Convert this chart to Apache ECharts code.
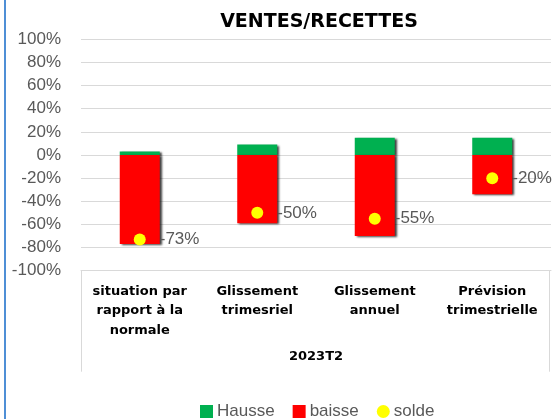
<!DOCTYPE html>
<html>
<head>
<meta charset="utf-8">
<script src="https://cdn.jsdelivr.net/npm/echarts@6/dist/echarts.min.js"></script>
<style>
html,body{margin:0;padding:0;background:#fff;}
#chart{width:554px;height:419px;}
</style>
</head>
<body>
<div id="chart"></div>
<script>
const titleText = 'VENTES/RECETTES';
const categories = ['situation par\nrapport à la\nnormale', 'Glissement\ntrimesriel', 'Glissement\nannuel', 'Prévision\ntrimestrielle'];
const groupLabel = '2023T2';
const hausse = [3, 9, 15, 15];
const baisse = [-77, -59, -70, -34];
const solde = [-73, -50, -55, -20];
const yTicks = [-100, 100, 20];

const chart = echarts.init(document.getElementById('chart'), null, {renderer: 'canvas'});
const gray = '#595959';
const barShadow = {shadowColor: 'rgba(0,0,0,0.75)', shadowOffsetX: 2, shadowOffsetY: 1, shadowBlur: 2};

const option = {
  animation: false,
  backgroundColor: '#fff',
  title: {
    text: titleText,
    left: 314, top: 8, textAlign: 'center',
    textStyle: {fontFamily: 'DejaVu Sans', fontWeight: 900, fontSize: 19, color: '#000'}
  },
  grid: {left: 81, right: 3, top: 39.3, bottom: 148.3, containLabel: false},
  legend: {
    left: 195, top: 398,
    itemWidth: 13, itemHeight: 13, itemGap: 18,
    textStyle: {fontFamily: 'Liberation Sans', fontSize: 17, color: gray, padding: [0, 0, 0, -1]},
    data: [
      {name: 'Hausse', icon: 'rect'},
      {name: 'baisse', icon: 'rect'},
      {name: 'solde', icon: 'circle'}
    ]
  },
  xAxis: {
    type: 'category',
    data: categories,
    axisLine: {show: true, onZero: false, lineStyle: {color: '#d9d9d9', width: 1}},
    axisTick: {show: false},
    axisLabel: {
      interval: 0, margin: 11,
      fontFamily: 'DejaVu Sans', fontWeight: 'bold', fontSize: 13, lineHeight: 19.5, color: '#000'
    },
    name: groupLabel,
    nameLocation: 'middle',
    nameGap: 79,
    nameTextStyle: {fontFamily: 'DejaVu Sans', fontWeight: 'bold', fontSize: 13, color: '#000'}
  },
  yAxis: {
    type: 'value',
    min: yTicks[0], max: yTicks[1], interval: yTicks[2],
    axisLine: {show: false},
    axisTick: {show: false},
    axisLabel: {formatter: '{value}%', fontFamily: 'Liberation Sans', fontSize: 17, color: gray, margin: 20},
    splitLine: {lineStyle: {color: '#d9d9d9', width: 1}}
  },
  series: [
    {
      name: 'Hausse', type: 'bar', stack: 'v', data: hausse, barWidth: 40,
      itemStyle: Object.assign({color: '#00B050'}, barShadow)
    },
    {
      name: 'baisse', type: 'bar', stack: 'v', data: baisse, barWidth: 40,
      itemStyle: Object.assign({color: '#FF0000'}, barShadow)
    },
    {
      name: 'solde', type: 'scatter', data: solde, symbol: 'circle', symbolSize: 12,
      itemStyle: {color: '#FFFF00', opacity: 1},
      label: {
        show: true, position: 'right', distance: 14,
        formatter: p => p.value + '%',
        fontFamily: 'Liberation Sans', fontSize: 17, color: gray
      },
      z: 5
    }
  ]
};
chart.setOption(option);

// decorative frame of the category area and left border, derived from the grid
const gridModel = chart.getModel().getComponent('grid', 0);
const rect = gridModel.coordinateSystem.getRect();
const boxBottom = rect.y + rect.height + 101;
chart.setOption({
  graphic: [
    {type: 'line', silent: true, shape: {x1: rect.x + 0.5, y1: rect.y + rect.height, x2: rect.x + 0.5, y2: boxBottom}, style: {stroke: '#d9d9d9', lineWidth: 1}},
    {type: 'line', silent: true, shape: {x1: rect.x + rect.width - 1.5, y1: rect.y + rect.height, x2: rect.x + rect.width - 1.5, y2: boxBottom}, style: {stroke: '#d9d9d9', lineWidth: 1}},
    {type: 'line', silent: true, shape: {x1: 5, y1: 0, x2: 5, y2: 419}, style: {stroke: '#4F8FD6', lineWidth: 2}}
  ]
});
</script>
</body>
</html>
